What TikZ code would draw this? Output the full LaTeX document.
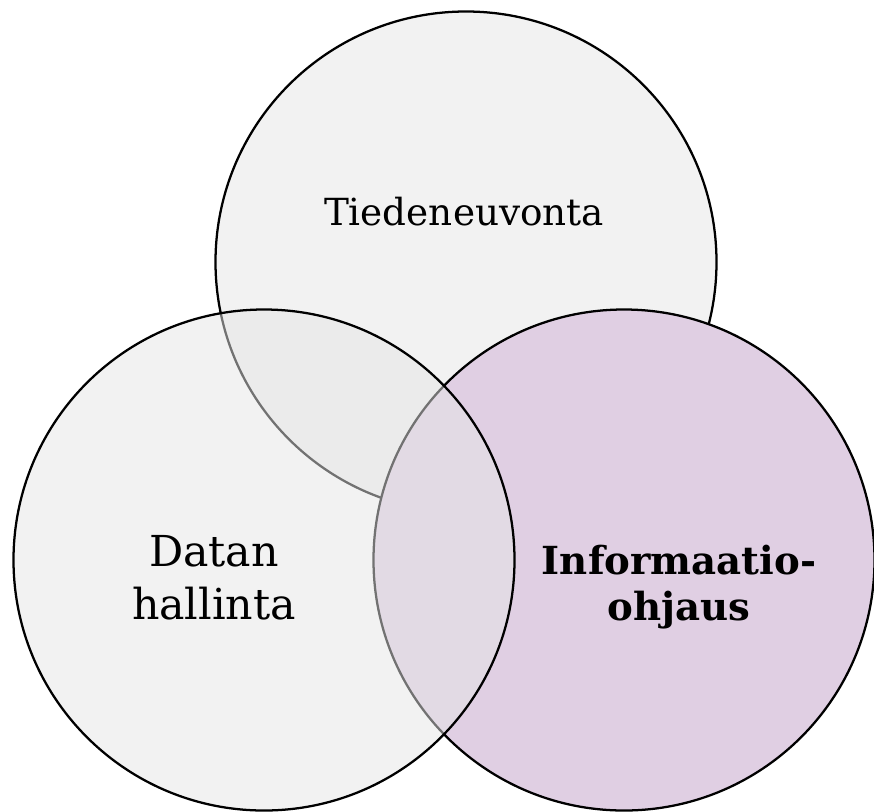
\documentclass[tikz,border=0pt]{standalone}
\usepackage{fontspec}
\setmainfont{DejaVu Serif}
\begin{document}
\tikzset{every picture/.style={line width=1.7pt}}

\begin{tikzpicture}[x=0.75pt,y=0.75pt,yscale=-1,xscale=1]
%set diagram left start at 0, and has height of 811
\path [use as bounding box] (0,0) rectangle (874,811);

%Shape: Circle [id:top]
\draw  [fill={rgb, 255:red, 242; green, 242; blue, 242 }  ,fill opacity=1 ]  (466,262) circle [radius=250.5] ;
%Shape: Circle [id:right]
\draw  [fill={rgb, 255:red, 224; green, 207; blue, 227 }  ,fill opacity=1 ]  (624,560) circle [radius=250.5] ;
%Shape: Circle [id:left]
\draw  [fill={rgb, 255:red, 229; green, 229; blue, 229 }  ,fill opacity=0.5 ]  (264,560) circle [radius=250.5] ;

% Text Node
\draw (464,225) node (tiede) [anchor=base][inner sep=0.75pt]  [font=\fontsize{28}{34}\selectfont]  {Tiedeneuvonta};
% Text Node
\draw (214,578) node (data) [anchor=center][inner sep=0.75pt]  [font=\fontsize{32}{40}\selectfont] [align=center] {Datan\\hallinta};
% Text Node
\draw (679,587) node (info) [anchor=center][inner sep=0.75pt]  [font=\fontsize{29}{35}\selectfont\bfseries] [align=center] {Informaatio-\\ohjaus};

\end{tikzpicture}
\end{document}
